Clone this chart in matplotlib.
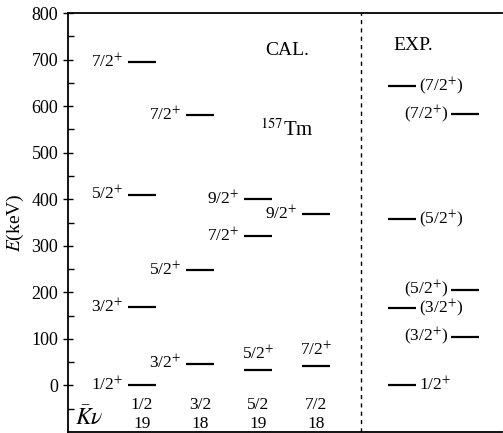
import matplotlib
matplotlib.use("Agg")
import matplotlib.pyplot as plt
import numpy as np

plt.rcParams["font.family"] = ["Liberation Serif", "DejaVu Serif"]
plt.rcParams["mathtext.fontset"] = "stix"

# calculated bands: (K, nu) columns
col_k = ["1/2", "3/2", "5/2", "7/2"]
col_nu = ["19", "18", "19", "18"]

# calculated levels per column (keV) and spins
cal_energy = [
    [0, 168, 410, 695],
    [47, 247, 580],
    [34, 321, 400],
    [41, 368],
]
cal_spin = [
    ["1/2", "3/2", "5/2", "7/2"],
    ["3/2", "5/2", "7/2"],
    ["5/2", "7/2", "9/2"],
    ["7/2", "9/2"],
]
# labels placed above the bar instead of left of it
cal_above = [
    [False, False, False, False],
    [False, False, False],
    [True, False, False],
    [True, False],
]

# experimental levels
exp_energy = [0, 105, 166, 206, 357, 583, 643]
exp_label = ["1/2", "(3/2", "(3/2", "(5/2", "(5/2", "(7/2", "(7/2"]
exp_side = ["L", "R", "L", "R", "L", "R", "L"]  # bar position

fig = plt.figure(figsize=(5.03, 4.33), dpi=100)
ax = fig.add_axes([68 / 503, 1 / 433, 434 / 503, 419 / 433])
ax.set_xlim(-0.276, 7.21)
ax.set_ylim(-100, 800)

hw = 0.24
fs = 12.5
for i, (ens, sps, abv) in enumerate(zip(cal_energy, cal_spin, cal_above)):
    x = i + 1
    for e, s, a in zip(ens, sps, abv):
        ax.plot([x - hw, x + hw], [e, e], color="black", lw=1.6, solid_capstyle="butt")
        lab = s + r"$^{+}$"
        if a:
            ax.text(x, e + 14, lab, ha="center", va="bottom", fontsize=fs)
        else:
            ax.text(x - hw - 0.08, e, lab, ha="right", va="center", fontsize=fs)
    ax.text(x, -42, col_k[i], ha="center", va="center", fontsize=fs)
    ax.text(x, -82, col_nu[i], ha="center", va="center", fontsize=fs)

xl, xr = 5.48, 6.57
for e, lab, side in zip(exp_energy, exp_label, exp_side):
    txt = lab + r"$^{+}$" + (")" if lab.startswith("(") else "")
    if side == "L":
        ax.plot([xl - hw, xl + hw], [e, e], color="black", lw=1.6, solid_capstyle="butt")
        ax.text(xl + hw + 0.06, e, txt, ha="left", va="center", fontsize=fs)
    else:
        ax.plot([xr - hw, xr + hw], [e, e], color="black", lw=1.6, solid_capstyle="butt")
        ax.text(xr - hw - 0.04, e, txt, ha="right", va="center", fontsize=fs)

ax.axvline(4.78, color="black", lw=1.0, ls=(0, (3, 3)))

ax.text(3.5, 720, "CAL.", ha="center", va="center", fontsize=14)
ax.text(5.67, 731, "EXP.", ha="center", va="center", fontsize=14)
ax.text(3.5, 548, r"$^{157}$Tm", ha="center", va="center", fontsize=15)
ax.text(0.1, -70, r"$\bar{K}\nu$", ha="center", va="center", fontsize=17)

ax.set_yticks(np.arange(0, 801, 100))
ax.set_yticks(np.arange(-50, 801, 50), minor=True)
ax.set_xticks([])
ax.tick_params(axis="y", which="major", direction="inout", length=7, width=1, labelsize=13)
ax.tick_params(axis="y", which="minor", direction="in", length=4, width=1)
ax.spines["right"].set_visible(False)
for sp in ["left", "top", "bottom"]:
    ax.spines[sp].set_linewidth(1.3)
ax.set_ylabel(r"$E$(keV)", fontsize=14, labelpad=4)

fig.savefig("out.png", dpi=100)
